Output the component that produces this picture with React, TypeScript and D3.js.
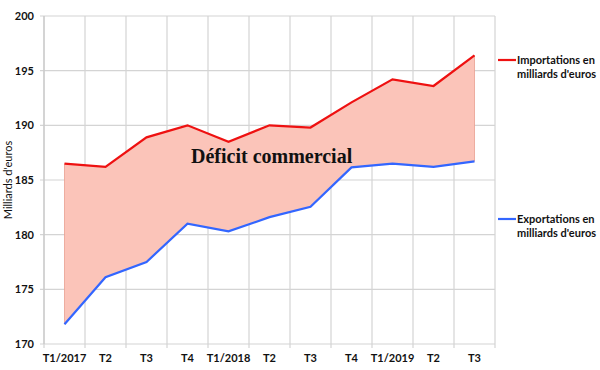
import React from "react";
import * as d3 from "d3";

const categories = ["T1/2017", "T2", "T3", "T4", "T1/2018", "T2", "T3", "T4", "T1/2019", "T2", "T3"];
const imports = [186.5, 186.2, 188.9, 190.0, 188.5, 190.0, 189.8, 192.1, 194.2, 193.6, 196.4];
const exportsV = [171.8, 176.1, 177.5, 181.0, 180.3, 181.6, 182.55, 186.15, 186.5, 186.2, 186.7];
const yTicks = [170, 175, 180, 185, 190, 195, 200];

const W = 600, H = 370;
const left = 44, right = 495, top = 16, bottom = 344;

export default function App() {
  const idx = categories.map((_, i) => i);
  const x = d3.scaleBand<number>().domain(idx).range([left, right]).paddingInner(0).paddingOuter(0);
  const y = d3.scaleLinear().domain([170, 200]).range([bottom, top]);
  const cx = (i: number) => (x(i) as number) + x.bandwidth() / 2;

  const area = d3.area<number>()
    .x((i) => cx(i))
    .y0((i) => y(exportsV[i]))
    .y1((i) => y(imports[i]));
  const lineI = d3.line<number>().x((i) => cx(i)).y((i) => y(imports[i]));
  const lineE = d3.line<number>().x((i) => cx(i)).y((i) => y(exportsV[i]));

  const font = "Lato, sans-serif";
  const vLines = d3.range(categories.length + 1).map((k) => left + k * x.bandwidth());

  return (
    <svg width={W} height={H} style={{ position: "absolute", left: 0, top: 0, background: "#fff" }}>
      {yTicks.map((t) => (
        <g key={t}>
          <line x1={left - 4} x2={right} y1={y(t)} y2={y(t)} stroke="#d4d4d4" strokeWidth={1.2} />
          <text x={34} y={y(t)} dy="0.35em" textAnchor="end" fontFamily={font} fontWeight={700} fontSize={11} fill="#111">{t}</text>
        </g>
      ))}
      {vLines.map((vx, k) => (
        <line key={k} x1={vx} x2={vx} y1={top} y2={bottom + 4} stroke="#d4d4d4" strokeWidth={1.2} />
      ))}
      <line x1={left} x2={left} y1={top} y2={bottom} stroke="#c8c8c8" strokeWidth={1.2} />
      <path d={area(idx) || ""} fill="#fbc4b9" />
      <line x1={cx(0)} x2={cx(0)} y1={y(imports[0])} y2={y(exportsV[0])} stroke="#e8a090" strokeWidth={0.8} />
      <line x1={cx(10)} x2={cx(10)} y1={y(imports[10])} y2={y(exportsV[10])} stroke="#e8a090" strokeWidth={0.8} />
      <path d={lineI(idx) || ""} fill="none" stroke="#ee1111" strokeWidth={2.2} />
      <path d={lineE(idx) || ""} fill="none" stroke="#3366ff" strokeWidth={2.2} />
      {categories.map((c, i) => (
        <text key={i} x={cx(i)} y={362} textAnchor="middle" fontFamily={font} fontWeight={700} fontSize={11} fill="#111">{c}</text>
      ))}
      <text transform={`translate(12,180) rotate(-90)`} textAnchor="middle" fontFamily={font} fontSize={11} fill="#111">Milliards d'euros</text>
      <text x={191} y={163} fontFamily="'Liberation Serif', serif" fontWeight={700} fontSize={20} fill="#111">Déficit commercial</text>
      <line x1={498} x2={516} y1={60} y2={60} stroke="#ee1111" strokeWidth={2.2} />
      <text x={517} y={64} fontFamily={font} fontWeight={700} fontSize={11} fill="#111">Importations en</text>
      <text x={517} y={78} fontFamily={font} fontWeight={700} fontSize={11} fill="#111">milliards d'euros</text>
      <line x1={498} x2={516} y1={219} y2={219} stroke="#3366ff" strokeWidth={2.2} />
      <text x={517} y={223} fontFamily={font} fontWeight={700} fontSize={11} fill="#111">Exportations en</text>
      <text x={517} y={237} fontFamily={font} fontWeight={700} fontSize={11} fill="#111">milliards d'euros</text>
    </svg>
  );
}
